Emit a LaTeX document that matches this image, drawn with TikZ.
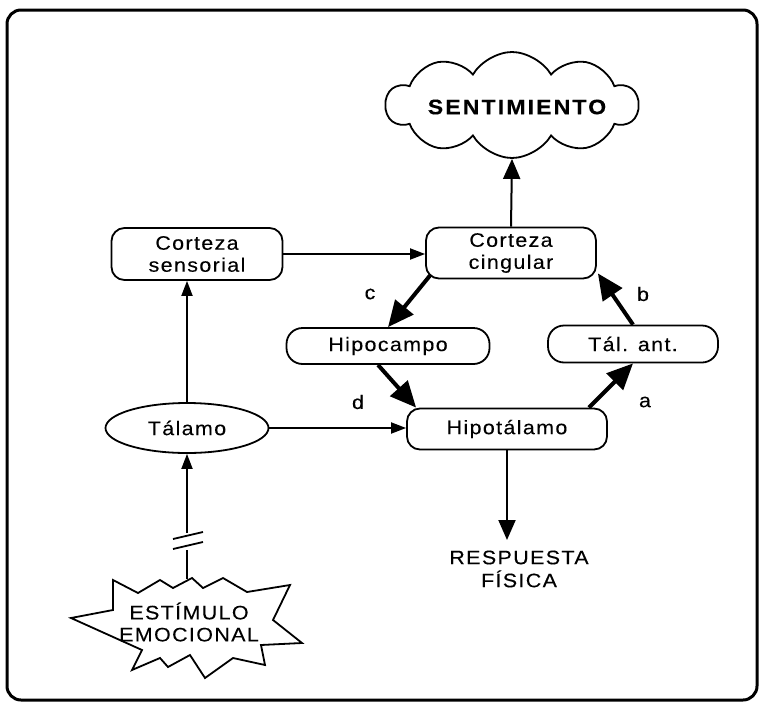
\documentclass[tikz,border=0pt]{standalone}
\usepackage{fontspec}
\setmainfont{Liberation Sans}[FakeStretch=1.1, LetterSpace=7, FakeBold=0.2]
\usetikzlibrary{arrows.meta,shapes.geometric,shapes.symbols,calc}
\begin{document}
\begin{tikzpicture}[x=1pt,y=-1pt,
  lbl/.style={font=\fontsize{19.5}{22}\selectfont, align=center, inner sep=0pt},
  box/.style={lbl, draw, line width=1.8pt, rounded corners=13pt},
  thin/.style={line width=1.8pt, -{Triangle[length=15pt,width=11pt]}},
  big/.style={line width=2pt, -{Triangle[length=20pt,width=17pt]}},
  thick/.style={line width=4pt, -{Triangle[length=26pt,width=23pt]}},
  ln/.style={line width=1.8pt}]
\useasboundingbox (0,0) rectangle (760,704);
\draw[line width=3pt, rounded corners=14pt] (7,10) rectangle (757,700);

% cloud
\node[cloud, draw, line width=1.8pt, cloud puffs=10, cloud puff arc=120, cloud ignores aspect,
  minimum width=252pt, minimum height=106pt, inner sep=0pt] (cloud) at (512,105) {};
\node[font=\fontsize{21}{24}\selectfont\bfseries\addfontfeatures{LetterSpace=10}, inner sep=0pt] (sent) at (517,107) {SENTIMIENTO};

% boxes
\node[box, minimum width=170pt, minimum height=51pt] (cing) at (511,253) {Corteza\\cingular};
\node[box, minimum width=171pt, minimum height=52pt] (sens) at (197,254) {Corteza\\sensorial};
\node[box, minimum width=203pt, minimum height=36pt, rounded corners=16pt] (hipo) at (388,346) {Hipocampo};
\node[box, minimum width=170pt, minimum height=37pt, rounded corners=16pt] (talant) at (633,344) {Tál. ant.};
\node[box, minimum width=200pt, minimum height=41pt] (hipot) at (507,429) {Hipotálamo};
\node[lbl, draw, ellipse, line width=1.8pt, minimum width=163pt, minimum height=50pt] (tal) at (187,428) {Tálamo};

% labels
\node[lbl] (lc) at (370,294) {c};
\node[lbl] (lb) at (643,294) {b};
\node[lbl] (ld) at (358,402) {d};
\node[lbl] (la) at (645,402) {a};

% respuesta
\node[lbl, font=\fontsize{19.5}{23}\selectfont] (resp) at (519,569) {RESPUESTA\\FÍSICA};
\coordinate (respIn) at (507,540);

% stimulus starburst
\draw[ln, line join=miter] (113,580) -- (138,593) -- (160,580) -- (173,588) -- (192,578) -- (203,588)
  -- (223,578) -- (247,592) -- (290,585) -- (273,620) -- (302,643) -- (261,645) -- (265,665)
  -- (233,658) -- (205,678) -- (190,655) -- (168,667) -- (160,658) -- (132,670) -- (142,650)
  -- (71,618) -- (113,610) -- cycle;
\node[lbl] (est) at (189,622) {ESTÍMULO\\EMOCIONAL};
\coordinate (estTop) at (187,579);
\coordinate (brkA) at (187,533);
\coordinate (brkB) at (187,550);

% connectors
\draw[big] (cing.north) -- (cloud.south);
\draw[thin] (sens.east) -- (sens.east -| cing.west);
\draw[thin] (tal.north) -- (tal.north |- sens.south);
\draw[thin] (tal.east) -- (tal.east -| hipot.west);
\draw[big] (hipot.south) -- (respIn);
\draw[thin] (brkA) -- (tal.south);
\draw[ln] (estTop) -- (brkB);
\draw[ln] (173,539) -- (203,532);
\draw[ln] (173,549) -- (203,542);

\draw[thick] ([xshift=5pt,yshift=4pt]cing.south west) -- (hipo.north);
\draw[thick] ([xshift=-10pt]hipo.south) -- ([xshift=10pt]hipot.north west);
\draw[thick] ([xshift=-19pt]hipot.north east) -- (talant.south);
\draw[thick] (talant.north) -- ([xshift=1pt,yshift=6pt]cing.south east);
\end{tikzpicture}
\end{document}
